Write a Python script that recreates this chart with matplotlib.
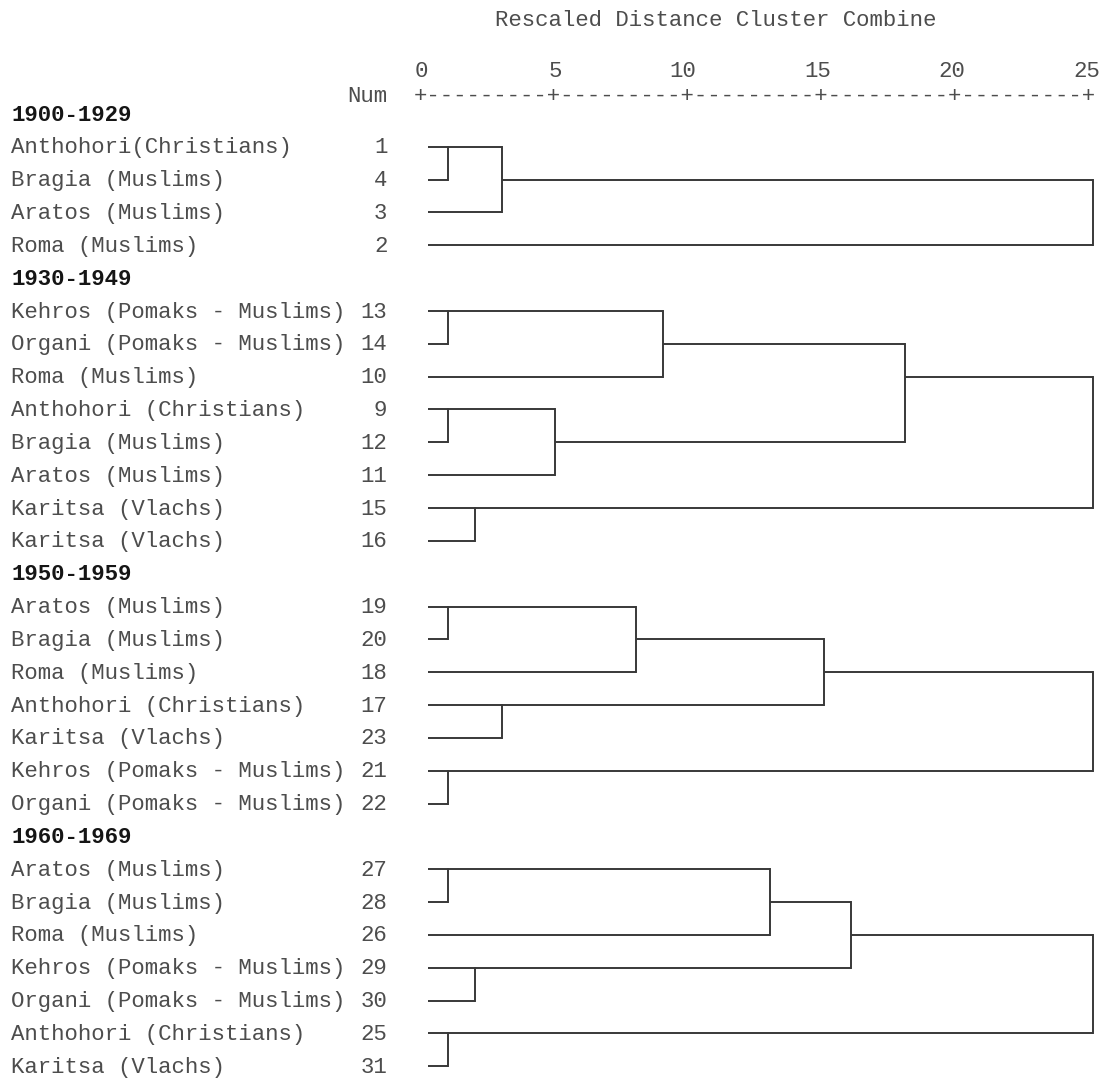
import matplotlib
matplotlib.use("Agg")
import matplotlib.pyplot as plt

# periods (group headers)
periods = ["1900-1929", "1930-1949", "1950-1959", "1960-1969"]

# leaf labels and case numbers, in dendrogram order
labels_1900 = ["Anthohori(Christians)", "Bragia (Muslims)", "Aratos (Muslims)", "Roma (Muslims)"]
nums_1900 = [1, 4, 3, 2]
# merges: (node a, node b, rescaled distance); new nodes get the next index
merges_1900 = [(0, 1, 1), (4, 2, 3), (5, 3, 25)]

labels_1930 = ["Kehros (Pomaks - Muslims)", "Organi (Pomaks - Muslims)", "Roma (Muslims)",
               "Anthohori (Christians)", "Bragia (Muslims)", "Aratos (Muslims)",
               "Karitsa (Vlachs)", "Karitsa (Vlachs)"]
nums_1930 = [13, 14, 10, 9, 12, 11, 15, 16]
merges_1930 = [(0, 1, 1), (8, 2, 9), (3, 4, 1), (10, 5, 5), (9, 11, 18), (6, 7, 2), (12, 13, 25)]

labels_1950 = ["Aratos (Muslims)", "Bragia (Muslims)", "Roma (Muslims)", "Anthohori (Christians)",
               "Karitsa (Vlachs)", "Kehros (Pomaks - Muslims)", "Organi (Pomaks - Muslims)"]
nums_1950 = [19, 20, 18, 17, 23, 21, 22]
merges_1950 = [(0, 1, 1), (7, 2, 8), (3, 4, 3), (8, 9, 15), (5, 6, 1), (10, 11, 25)]

labels_1960 = ["Aratos (Muslims)", "Bragia (Muslims)", "Roma (Muslims)", "Kehros (Pomaks - Muslims)",
               "Organi (Pomaks - Muslims)", "Anthohori (Christians)", "Karitsa (Vlachs)"]
nums_1960 = [27, 28, 26, 29, 30, 25, 31]
merges_1960 = [(0, 1, 1), (7, 2, 13), (3, 4, 2), (8, 9, 16), (5, 6, 1), (10, 11, 25)]

groups = [
    (labels_1900, nums_1900, merges_1900),
    (labels_1930, nums_1930, merges_1930),
    (labels_1950, nums_1950, merges_1950),
    (labels_1960, nums_1960, merges_1960),
]

axis_ticks = [0, 5, 10, 15, 20, 25]

mono = "Liberation Mono"
fs = 16.13
txt_col = "#4d4d4d"
line_col = "#383838"
base = 0.2      # baseline offset below row centre (in rows)
col0 = -15.25   # x of first text column (half a unit per character)
leaf_start = 0.25

fig = plt.figure(figsize=(11.08, 10.81), dpi=100)
ax = fig.add_axes([0, 0, 1, 1])
ax.set_xlim(-15.66, 25.56)
ax.set_ylim(29.45, -3.47)
ax.axis("off")

# header of the dendrogram
ax.text(col0 + 18, -2.88 + base, "Rescaled Distance Cluster Combine", family=mono,
        fontsize=fs, color=txt_col, ha="left", va="baseline")
for t in axis_ticks:
    ax.text(t + 0.25, -1.32 + base, str(t), family=mono, fontsize=fs, color=txt_col,
            ha="right", va="baseline")
ax.text(col0 + 14, -0.56 + base, "Num", family=mono, fontsize=fs, color=txt_col,
        ha="right", va="baseline")
ax.text(col0 + 15, -0.56 + base, "+" + ("-" * 9 + "+") * 5, family=mono, fontsize=fs,
        color=txt_col, ha="left", va="baseline")

row = 0
for period, (labels, nums, merges) in zip(periods, groups):
    ax.text(col0, row + base, period, family=mono, fontsize=fs, fontweight="bold",
            color="#151515", ha="left", va="baseline")
    row += 1
    first = row
    n = len(labels)
    for i in range(n):
        ax.text(col0, first + i + base, labels[i], family=mono, fontsize=fs,
                color=txt_col, ha="left", va="baseline")
        ax.text(col0 + 14, first + i + base, str(nums[i]), family=mono, fontsize=fs,
                color=txt_col, ha="right", va="baseline")

    node_row = {i: i for i in range(n)}
    node_x = {i: leaf_start for i in range(n)}
    for k, (a, b, h) in enumerate(merges):
        ra, rb = node_row[a], node_row[b]
        ax.plot([node_x[a], h], [first + ra, first + ra], color=line_col, lw=1.4,
                solid_capstyle="butt")
        ax.plot([node_x[b], h], [first + rb, first + rb], color=line_col, lw=1.4,
                solid_capstyle="butt")
        ax.plot([h, h], [first + ra, first + rb], color=line_col, lw=1.4,
                solid_capstyle="projecting")
        node_row[n + k] = (ra + rb) // 2
        node_x[n + k] = h
    row += n

fig.savefig("out.png", dpi=100)
